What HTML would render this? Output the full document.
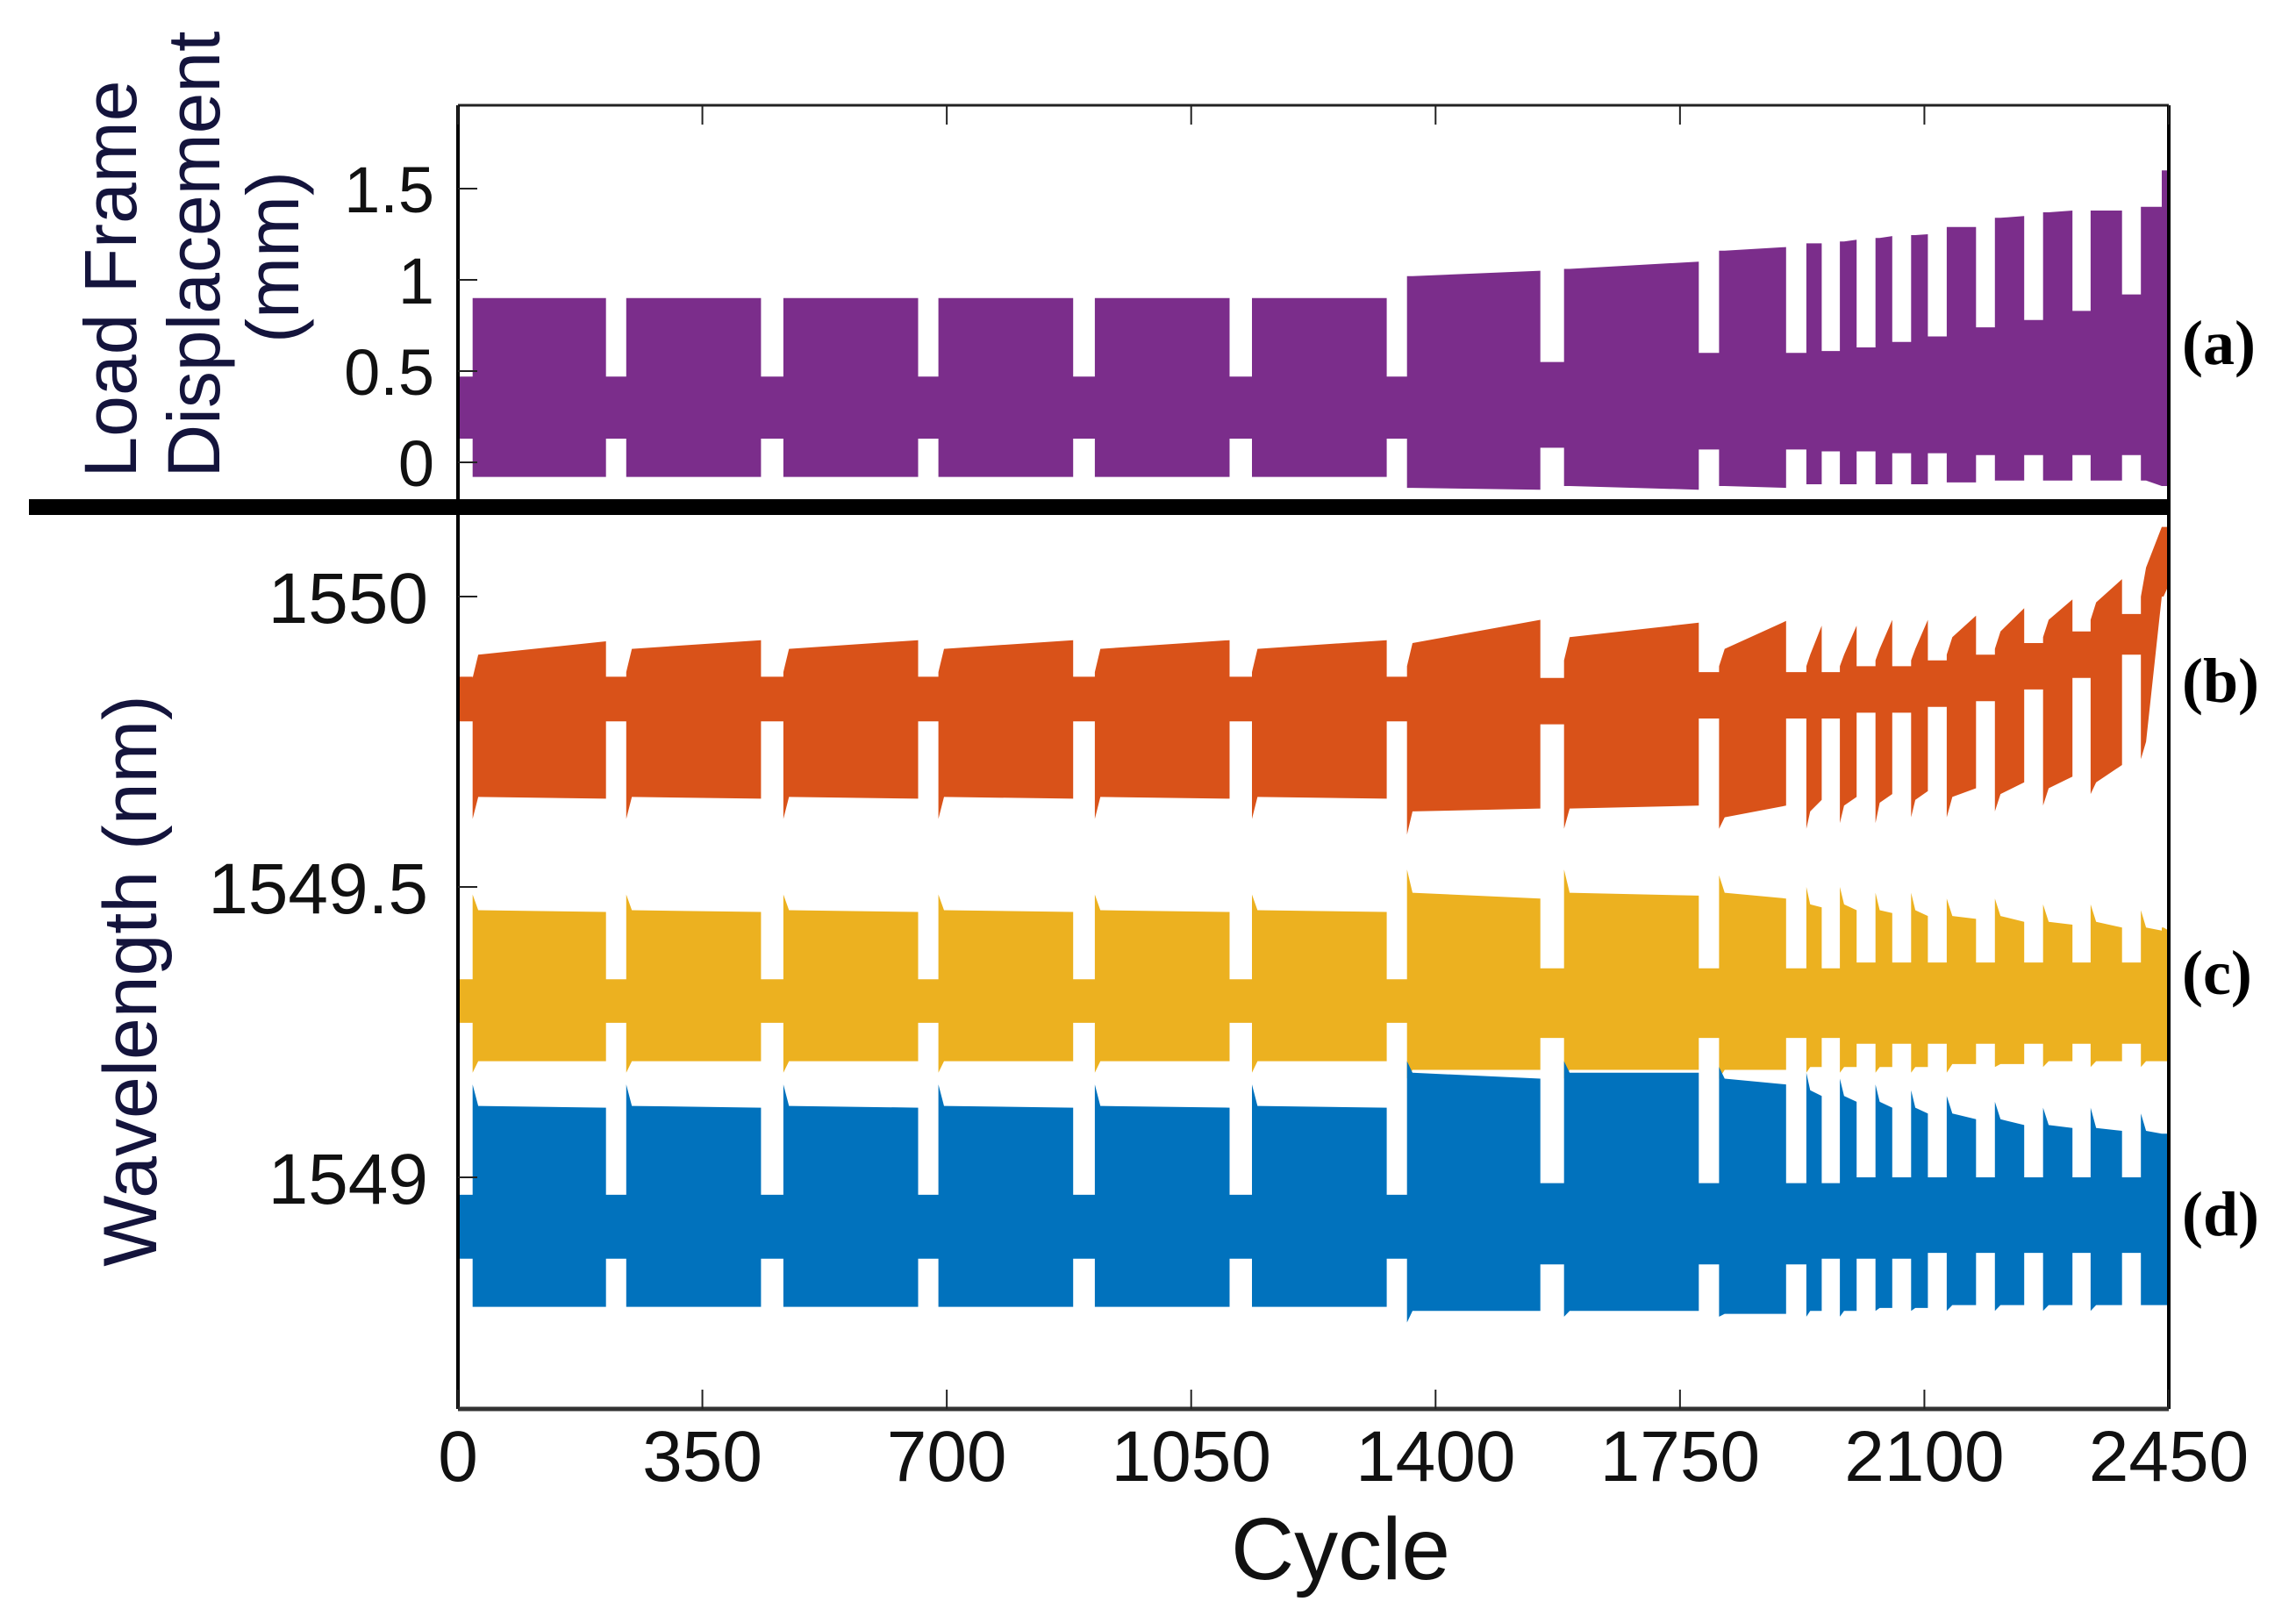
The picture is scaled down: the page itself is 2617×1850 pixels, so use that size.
<!DOCTYPE html>
<html><head><meta charset="utf-8"><title>Load frame displacement and wavelength vs cycle</title>
<style>html,body{margin:0;padding:0;background:#fff;}svg{display:block;}</style></head>
<body>
<svg id="chart" xmlns="http://www.w3.org/2000/svg" width="2617" height="1850" viewBox="0 0 2617 1850">
<rect x="0" y="0" width="2617" height="1850" fill="#fff"/>
<g id="series"></g>
<g id="axes"></g>
</svg>
<script>
// ---- data (cycles) ----
const blockStart = [21,241,466,688,912,1137,1359,1584,1806,1931,1979,2030,2081,2132,2201,2270,2338,2410,2440];
const blockEnd   = [212,434,659,881,1105,1330,1550,1777,1902,1953,2003,2054,2105,2174,2243,2312,2383,2440,2450];
const xTicks = [0,350,700,1050,1400,1750,2100,2450];
const topTicks = [0,0.5,1,1.5];
const topTickLabels = ["0","0.5","1","1.5"];
const botTicks = [1549,1549.5,1550];
const botTickLabels = ["1549","1549.5","1550"];

// (a) displacement, mm
const pTop0 = [0.9,0.9,0.9,0.9,0.9,0.9,1.02,1.06,1.16,1.2,1.21,1.23,1.245,1.29,1.34,1.37,1.38,1.40,1.6];
const pTop1 = [0.9,0.9,0.9,0.9,0.9,0.9,1.05,1.1,1.18,1.2,1.22,1.24,1.25,1.29,1.35,1.38,1.38,1.40,1.6];
const pBot0 = [-0.08,-0.08,-0.08,-0.08,-0.08,-0.08,-0.14,-0.13,-0.13,-0.12,-0.12,-0.12,-0.12,-0.11,-0.1,-0.1,-0.1,-0.1,-0.13];
const pBot1 = [-0.08,-0.08,-0.08,-0.08,-0.08,-0.08,-0.15,-0.15,-0.14,-0.12,-0.12,-0.12,-0.12,-0.11,-0.1,-0.1,-0.1,-0.13,-0.13];
const pGapHi = [0.47,0.47,0.47,0.47,0.47,0.47,0.47,0.55,0.6,0.6,0.61,0.63,0.66,0.69,0.74,0.78,0.83,0.92,1.4];
const pGapLo = [0.13,0.13,0.13,0.13,0.13,0.13,0.13,0.08,0.07,0.07,0.06,0.06,0.05,0.05,0.04,0.04,0.04,0.04,-0.1];

// (b) orange wavelength, nm
const oTop0 = [1549.90,1549.91,1549.91,1549.91,1549.91,1549.91,1549.92,1549.93,1549.91,1549.90,1549.90,1549.91,1549.91,1549.93,1549.94,1549.96,1549.99,1550.05,1550.12];
const oTop1 = [1549.923,1549.925,1549.925,1549.925,1549.925,1549.925,1549.96,1549.955,1549.958,1549.95,1549.95,1549.96,1549.96,1549.967,1549.98,1549.995,1550.03,1550.12,1550.12];
const oBot0 = [1549.655,1549.655,1549.655,1549.655,1549.655,1549.655,1549.63,1549.635,1549.62,1549.63,1549.64,1549.645,1549.65,1549.655,1549.66,1549.67,1549.68,1549.75,1550.0];
const oBot1 = [1549.652,1549.652,1549.652,1549.652,1549.652,1549.652,1549.635,1549.64,1549.64,1549.65,1549.655,1549.66,1549.665,1549.67,1549.68,1549.69,1549.71,1550.0,1550.02];
const oSpkTop = [1549.86,1549.87,1549.87,1549.87,1549.87,1549.87,1549.88,1549.89,1549.88,1549.88,1549.88,1549.89,1549.89,1549.9,1549.91,1549.93,1549.96,1550.0,1550.12];
const oSpkBot = [1549.617,1549.617,1549.617,1549.617,1549.617,1549.617,1549.59,1549.6,1549.6,1549.6,1549.61,1549.61,1549.62,1549.62,1549.63,1549.64,1549.66,1549.72,1550.0];
const oGapHi = [1549.862,1549.862,1549.862,1549.862,1549.862,1549.862,1549.862,1549.86,1549.87,1549.87,1549.87,1549.88,1549.88,1549.89,1549.9,1549.92,1549.94,1549.97,1550.1];
const oGapLo = [1549.785,1549.785,1549.785,1549.785,1549.785,1549.785,1549.785,1549.78,1549.79,1549.79,1549.79,1549.8,1549.8,1549.81,1549.82,1549.84,1549.86,1549.9,1550.0];

// (c) yellow wavelength, nm
const yTop0 = [1549.46,1549.46,1549.46,1549.46,1549.46,1549.46,1549.49,1549.49,1549.49,1549.47,1549.47,1549.46,1549.46,1549.45,1549.45,1549.44,1549.44,1549.43,1549.43];
const yTop1 = [1549.457,1549.457,1549.457,1549.457,1549.457,1549.457,1549.48,1549.485,1549.48,1549.465,1549.46,1549.455,1549.45,1549.445,1549.44,1549.435,1549.43,1549.425,1549.425];
const yBot0 = [1549.2,1549.2,1549.2,1549.2,1549.2,1549.2,1549.185,1549.185,1549.185,1549.19,1549.19,1549.19,1549.19,1549.195,1549.195,1549.2,1549.2,1549.2,1549.2];
const yBot1 = [1549.2,1549.2,1549.2,1549.2,1549.2,1549.2,1549.185,1549.185,1549.185,1549.19,1549.19,1549.19,1549.19,1549.195,1549.195,1549.2,1549.2,1549.2,1549.2];
const ySpkTop = [1549.487,1549.487,1549.487,1549.487,1549.487,1549.487,1549.53,1549.53,1549.52,1549.5,1549.5,1549.49,1549.49,1549.48,1549.48,1549.47,1549.47,1549.46,1549.43];
const ySpkBot = [1549.18,1549.18,1549.18,1549.18,1549.18,1549.18,1549.17,1549.17,1549.17,1549.18,1549.18,1549.18,1549.18,1549.18,1549.19,1549.19,1549.19,1549.19,1549.2];
const yGapHi = [1549.341,1549.341,1549.341,1549.341,1549.341,1549.341,1549.341,1549.36,1549.36,1549.36,1549.36,1549.37,1549.37,1549.37,1549.37,1549.37,1549.37,1549.37,1549.37];
const yGapLo = [1549.266,1549.266,1549.266,1549.266,1549.266,1549.266,1549.266,1549.24,1549.24,1549.24,1549.24,1549.23,1549.23,1549.23,1549.23,1549.23,1549.23,1549.23,1549.23];

// (d) blue wavelength, nm
const bTop0 = [1549.123,1549.123,1549.123,1549.123,1549.123,1549.123,1549.18,1549.18,1549.17,1549.15,1549.14,1549.13,1549.12,1549.11,1549.10,1549.09,1549.085,1549.08,1549.075];
const bTop1 = [1549.12,1549.12,1549.12,1549.12,1549.12,1549.12,1549.17,1549.18,1549.16,1549.14,1549.13,1549.12,1549.11,1549.10,1549.09,1549.085,1549.08,1549.075,1549.075];
const bBot0 = [1548.777,1548.777,1548.777,1548.777,1548.777,1548.777,1548.77,1548.77,1548.765,1548.77,1548.77,1548.775,1548.775,1548.78,1548.78,1548.78,1548.78,1548.78,1548.78];
const bBot1 = [1548.777,1548.777,1548.777,1548.777,1548.777,1548.777,1548.77,1548.77,1548.765,1548.77,1548.77,1548.775,1548.775,1548.78,1548.78,1548.78,1548.78,1548.78,1548.78];
const bSpkTop = [1549.16,1549.16,1549.16,1549.16,1549.16,1549.16,1549.2,1549.2,1549.19,1549.18,1549.17,1549.16,1549.15,1549.14,1549.13,1549.12,1549.12,1549.11,1549.075];
const bSpkBot = [1548.777,1548.777,1548.777,1548.777,1548.777,1548.777,1548.75,1548.76,1548.76,1548.76,1548.76,1548.77,1548.77,1548.77,1548.77,1548.77,1548.77,1548.78,1548.78];
const bGapHi = [1548.97,1548.97,1548.97,1548.97,1548.97,1548.97,1548.97,1548.99,1548.99,1548.99,1548.99,1549.0,1549.0,1549.0,1549.0,1549.0,1549.0,1549.0,1549.0];
const bGapLo = [1548.86,1548.86,1548.86,1548.86,1548.86,1548.86,1548.86,1548.85,1548.85,1548.85,1548.86,1548.86,1548.86,1548.87,1548.87,1548.87,1548.87,1548.87,1548.87];

// ---- axis functions ----
const X0 = 522, X1 = 2472, XMAX = 2450;
function xs(c){ return X0 + c * (X1 - X0) / XMAX; }
function ysTop(v){ return 527 - v * 208; }
function ysBot(v){ return 680 - (v - 1550) * 662; }
const TOP_Y0 = 120, TOP_Y1 = 569, BOT_Y0 = 587, BOT_Y1 = 1606;

const NS = "http://www.w3.org/2000/svg";
const gS = document.getElementById("series");
const gA = document.getElementById("axes");

function buildSeries(name, color, yf, top0, top1, bot0, bot1, spkTop, spkBot, gapHi, gapLo, clipId){
  const up = [], lo = [];
  let prev = 0;
  for (let i = 0; i < blockStart.length; i++){
    const s = blockStart[i], e = blockEnd[i];
    up.push([prev, gapHi[i]], [s, gapHi[i]]);
    lo.push([prev, gapLo[i]], [s, gapLo[i]]);
    const w = Math.min(8, (e - s) / 4);
    up.push([s, spkTop[i]], [s + w, top0[i]], [e, top1[i]]);
    lo.push([s, spkBot[i]], [s + w, bot0[i]], [e, bot1[i]]);
    prev = e;
  }
  let d = "M" + up.map(p => xs(p[0]).toFixed(1) + "," + yf(p[1]).toFixed(1)).join("L");
  d += "L" + lo.slice().reverse().map(p => xs(p[0]).toFixed(1) + "," + yf(p[1]).toFixed(1)).join("L") + "Z";
  const path = document.createElementNS(NS, "path");
  path.setAttribute("d", d);
  path.setAttribute("fill", color);
  path.setAttribute("clip-path", "url(#" + clipId + ")");
  
  
  gS.appendChild(path);
}

// clip paths
const defs = document.createElementNS(NS, "defs");
defs.innerHTML = '<clipPath id="clipTop"><rect x="' + X0 + '" y="' + TOP_Y0 + '" width="' + (X1 - X0) + '" height="' + (TOP_Y1 - TOP_Y0) + '"/></clipPath>' +
  '<clipPath id="clipBot"><rect x="' + X0 + '" y="' + BOT_Y0 + '" width="' + (X1 - X0) + '" height="' + (BOT_Y1 - BOT_Y0) + '"/></clipPath>';
document.getElementById("chart").insertBefore(defs, gS);

buildSeries("series-a-displacement", "#7b2d8b", ysTop, pTop0, pTop1, pBot0, pBot1, pTop0, pBot0, pGapHi, pGapLo, "clipTop");
buildSeries("series-b-wavelength", "#d95219", ysBot, oTop0, oTop1, oBot0, oBot1, oSpkTop, oSpkBot, oGapHi, oGapLo, "clipBot");
buildSeries("series-c-wavelength", "#ecb120", ysBot, yTop0, yTop1, yBot0, yBot1, ySpkTop, ySpkBot, yGapHi, yGapLo, "clipBot");
buildSeries("series-d-wavelength", "#0172bd", ysBot, bTop0, bTop1, bBot0, bBot1, bSpkTop, bSpkBot, bGapHi, bGapLo, "clipBot");

function line(x1, y1, x2, y2, w, c){
  const l = document.createElementNS(NS, "line");
  l.setAttribute("x1", x1); l.setAttribute("y1", y1);
  l.setAttribute("x2", x2); l.setAttribute("y2", y2);
  l.setAttribute("stroke", c); l.setAttribute("stroke-width", w);
  return l;
}
function text(x, y, str, size, anchor, family, color){
  const t = document.createElementNS(NS, "text");
  t.setAttribute("x", x); t.setAttribute("y", y);
  t.setAttribute("font-size", size);
  t.setAttribute("text-anchor", anchor);
  t.setAttribute("font-family", family);
  t.setAttribute("fill", color);
  t.textContent = str;
  return t;
}
const SANS = '"Liberation Sans", Arial, sans-serif';
const SERIF = '"Liberation Serif", "Times New Roman", serif';

// frame
let el;
el = line(X0, TOP_Y0, X1, TOP_Y0, 3, "#222");
  gA.appendChild(el);
el = line(X0, TOP_Y0, X0, BOT_Y1, 4, "#000");
  gA.appendChild(el);
el = line(X1, TOP_Y0, X1, BOT_Y1, 4, "#000");
  gA.appendChild(el);
el = line(X0, BOT_Y1, X1, BOT_Y1, 5, "#333");
  gA.appendChild(el);
el = line(33, 578, X1, 578, 18, "#000");
  gA.appendChild(el);

// x ticks
xTicks.forEach(function(c){
  const x = xs(c);
  let t = line(x, BOT_Y1, x, BOT_Y1 - 22, 2, "#222");
  
  
  gA.appendChild(t);
  t = line(x, TOP_Y0, x, TOP_Y0 + 22, 2, "#222");
  
  
  gA.appendChild(t);
  const lb = text(x, 1688, String(c), 82, "middle", SANS, "#111");
  
  
  gA.appendChild(lb);
});
// top y ticks
topTicks.forEach(function(v, i){
  const y = ysTop(v);
  const t = line(X0, y, X0 + 22, y, 2, "#222");
  
  
  gA.appendChild(t);
  const lb = text(495, y + 27, topTickLabels[i], 74, "end", SANS, "#111");
  
  
  gA.appendChild(lb);
});
// bottom y ticks
botTicks.forEach(function(v, i){
  const y = ysBot(v);
  const t = line(X0, y, X0 + 22, y, 2, "#222");
  
  
  gA.appendChild(t);
  const lb = text(488, y + 30, botTickLabels[i], 82, "end", SANS, "#111");
  
  
  gA.appendChild(lb);
});

// axis titles
function rotText(cx, cy, str, size, name){
  const t = text(0, 0, str, size, "middle", SANS, "#14143c");
  t.setAttribute("transform", "translate(" + cx + "," + cy + ") rotate(-90)");
  
  
  gA.appendChild(t);
}
rotText(155, 318, "Load Frame", 84, "top-y-title-line1");
rotText(250, 290, "Displacement", 84, "top-y-title-line2");
rotText(340, 293, "(mm)", 84, "top-y-title-line3");
rotText(178, 1118, "Wavelength (nm)", 86, "bottom-y-title");

el = text(1528, 1800, "Cycle", 100, "middle", SANS, "#111");
  gA.appendChild(el);

// panel labels
const panelLabels = ["(a)", "(b)", "(c)", "(d)"];
const panelLabelY = [415, 800, 1133, 1408];
panelLabels.forEach(function(s, i){
  const t = text(2487, panelLabelY[i], s, 72, "start", SERIF, "#000");
  t.setAttribute("font-weight", "bold");
  
  
  gA.appendChild(t);
});
</script>
</body></html>
